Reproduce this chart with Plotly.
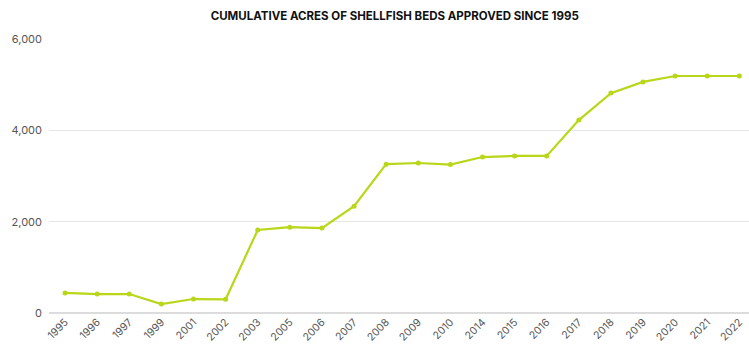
import plotly.graph_objects as go

years = ["1995", "1996", "1997", "1999", "2001", "2002", "2003", "2005", "2006", "2007",
         "2008", "2009", "2010", "2014", "2015", "2016", "2017", "2018", "2019", "2020",
         "2021", "2022"]
acres = [440, 415, 415, 197, 306, 300, 1817, 1880, 1860, 2340,
         3260, 3285, 3250, 3415, 3440, 3440, 4225, 4815, 5060, 5190,
         5190, 5190]
y_ticks = [0, 2000, 4000, 6000]
title_text = "CUMULATIVE ACRES OF SHELLFISH BEDS APPROVED SINCE 1995"

fig = go.Figure(go.Scatter(
    x=years, y=acres, mode="lines+markers",
    line=dict(color="#b9d619", width=2.2),
    marker=dict(color="#b9d619", size=5),
    hoverinfo="x+y",
))

fig.update_layout(
    width=749, height=345,
    margin=dict(l=49, r=0, t=39, b=32),
    paper_bgcolor="white", plot_bgcolor="white",
    showlegend=False,
    title=dict(text=title_text, x=0.527, xanchor="center", y=0.955, yanchor="middle",
               font=dict(family="Inter", size=11.5, color="#111", weight="bold")),
    font=dict(family="Inter", color="#555"),
)
fig.update_xaxes(type="category", range=[-0.5, 21.3], tickangle=-45,
                 tickfont=dict(size=10.5, color="#555"), showgrid=False,
                 showline=False, ticks="", zeroline=False, automargin=False)
fig.update_yaxes(range=[0, 6000], tickvals=y_ticks, tickformat=",",
                 tickfont=dict(size=11, color="#555"), gridcolor="#e6e6e6",
                 gridwidth=1.2, zeroline=True, zerolinecolor="#dcdcdc", zerolinewidth=1.5,
                 ticks="", ticklabelstandoff=6, showline=False, automargin=False)

fig.write_html("out.html", config={"displayModeBar": False},
               post_script="document.body.style.margin='0';")
